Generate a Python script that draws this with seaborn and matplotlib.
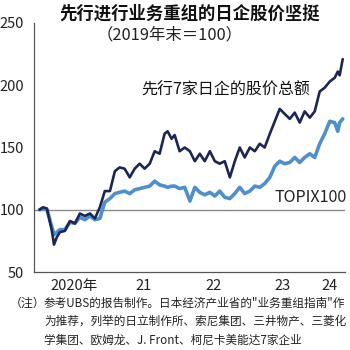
import matplotlib
matplotlib.use("Agg")
import matplotlib.pyplot as plt
import seaborn as sns
import pandas as pd

dates = ["2019-12-30", "2020-01-17", "2020-02-07", "2020-03-04", "2020-03-15", "2020-03-30",
         "2020-04-15", "2020-05-11", "2020-06-07", "2020-07-03", "2020-07-29", "2020-08-24",
         "2020-09-20", "2020-10-16", "2020-11-11", "2020-12-07", "2021-01-03", "2021-01-29",
         "2021-02-23", "2021-03-21", "2021-04-17", "2021-05-13", "2021-06-08", "2021-07-04",
         "2021-07-31", "2021-08-26", "2021-09-21", "2021-10-17", "2021-11-02", "2021-11-23",
         "2021-12-09", "2022-01-04", "2022-01-31", "2022-02-27", "2022-03-25", "2022-04-20",
         "2022-05-16", "2022-06-12", "2022-07-08", "2022-08-03", "2022-08-29", "2022-09-25",
         "2022-10-21", "2022-11-16", "2022-12-12", "2023-01-08", "2023-02-03", "2023-03-01",
         "2023-03-27", "2023-04-23", "2023-05-19", "2023-06-14", "2023-07-10", "2023-08-06",
         "2023-09-01", "2023-09-27", "2023-10-23", "2023-11-19", "2023-12-15", "2024-01-10",
         "2024-02-05", "2024-03-03", "2024-03-29", "2024-04-14", "2024-04-24", "2024-05-10"]
leaders = [100, 102, 101, 83, 72, 78,
           82, 83, 91, 89, 97, 95,
           97, 93, 102, 115, 115, 131,
           134, 133, 126, 133, 137, 133,
           137, 147, 145, 161, 163, 157,
           160, 147, 150, 147, 139, 145,
           139, 147, 139, 137, 139, 126,
           139, 150, 142, 150, 147, 153,
           150, 161, 171, 181, 177, 173,
           178, 170, 179, 174, 179, 195,
           198, 203, 206, 211, 208, 221]
topix100 = [100, 101, 100, 86, 80, 82,
            84, 84, 90, 89, 94, 92,
            95, 92, 93, 106, 109, 113,
            114, 115, 113, 116, 117, 118,
            119, 123, 120, 119, 118, 119,
            119, 117, 118, 107, 118, 114,
            112, 114, 111, 115, 110, 109,
            113, 118, 113, 115, 119, 118,
            121, 126, 135, 139, 137, 138,
            142, 138, 142, 145, 142, 153,
            161, 171, 170, 163, 170, 173]

year_labels = ["2020年", "21", "22", "23", "24"]
y_ticks = [50, 100, 150, 200, 250]

df = pd.DataFrame({"date": pd.to_datetime(dates), "leaders": leaders, "topix100": topix100})

sns.set_theme(style="white")
plt.rcParams["font.family"] = ["Noto Sans CJK SC", "DejaVu Sans"]

fig = plt.figure(figsize=(3.5, 3.5), dpi=100)
ax = fig.add_axes([34/350, 78/350, 311/350, 249/350])

ax.axhline(100, color="#8a8a8a", lw=1.0, zorder=1)
sns.lineplot(data=df, x="date", y="topix100", ax=ax, color="#4f8fcf", lw=2.6, zorder=2)
sns.lineplot(data=df, x="date", y="leaders", ax=ax, color="#1c2554", lw=1.9, zorder=3)

ax.set_xlim(pd.Timestamp("2019-12-01"), pd.Timestamp("2024-05-22"))
ax.set_ylim(50, 250)
ax.set_yticks(y_ticks)
ax.set_yticklabels([str(v) for v in y_ticks], fontsize=10.5, color="#222222")

major = [pd.Timestamp(f"{y}-01-01") for y in range(2020, 2025)]
ax.set_xticks(major)
ax.set_xticklabels([""] * len(major))
minor = [pd.Timestamp("2020-07-01"), pd.Timestamp("2021-07-01"), pd.Timestamp("2022-07-01"),
         pd.Timestamp("2023-07-01"), pd.Timestamp("2024-03-01")]
ax.set_xticks(minor, minor=True)
ax.set_xticklabels(year_labels, minor=True, fontsize=10.5, color="#222222")
ax.tick_params(axis="x", which="major", length=6, width=0.9, color="#555555", direction="out")
ax.tick_params(axis="x", which="minor", length=0, pad=5)
ax.tick_params(axis="y", length=5, width=0.9, color="#555555", direction="out", pad=2)
ax.set_xlabel("")
ax.set_ylabel("")

for s in ["top", "right"]:
    ax.spines[s].set_visible(False)
for s in ["left", "bottom"]:
    ax.spines[s].set_color("#555555")
    ax.spines[s].set_linewidth(0.9)

fig.text(190/350, 1 - 14/350, "先行进行业务重组的日企股价坚挺", ha="center", va="center",
         fontsize=12.5, fontweight="bold", color="#111111")
fig.text(170/350, 1 - 35/350, "（2019年末＝100）", ha="center", va="center",
         fontsize=11.8, color="#222222")
fig.text(226/350, 1 - 90/350, "先行7家日企的股价总额", ha="center", va="center",
         fontsize=11.5, color="#111111")
fig.text(347/350, 1 - 198/350, "TOPIX100", ha="right", va="center",
         fontsize=11.6, color="#222222")

fig.text(10/350, 1 - 303/350, "（注）", ha="left", va="center", fontsize=8.6, color="#222222")
foot = ['参考UBS的报告制作。日本经济产业省的"业务重组指南"作',
        "为推荐，列举的日立制作所、索尼集团、三井物产、三菱化",
        "学集团、欧姆龙、J. Front、柯尼卡美能达7家企业"]
for i, line in enumerate(foot):
    fig.text(44/350, 1 - (303 + i * 18.5)/350, line, ha="left", va="center",
             fontsize=8.4, color="#222222")

fig.savefig("out.png", dpi=100)
